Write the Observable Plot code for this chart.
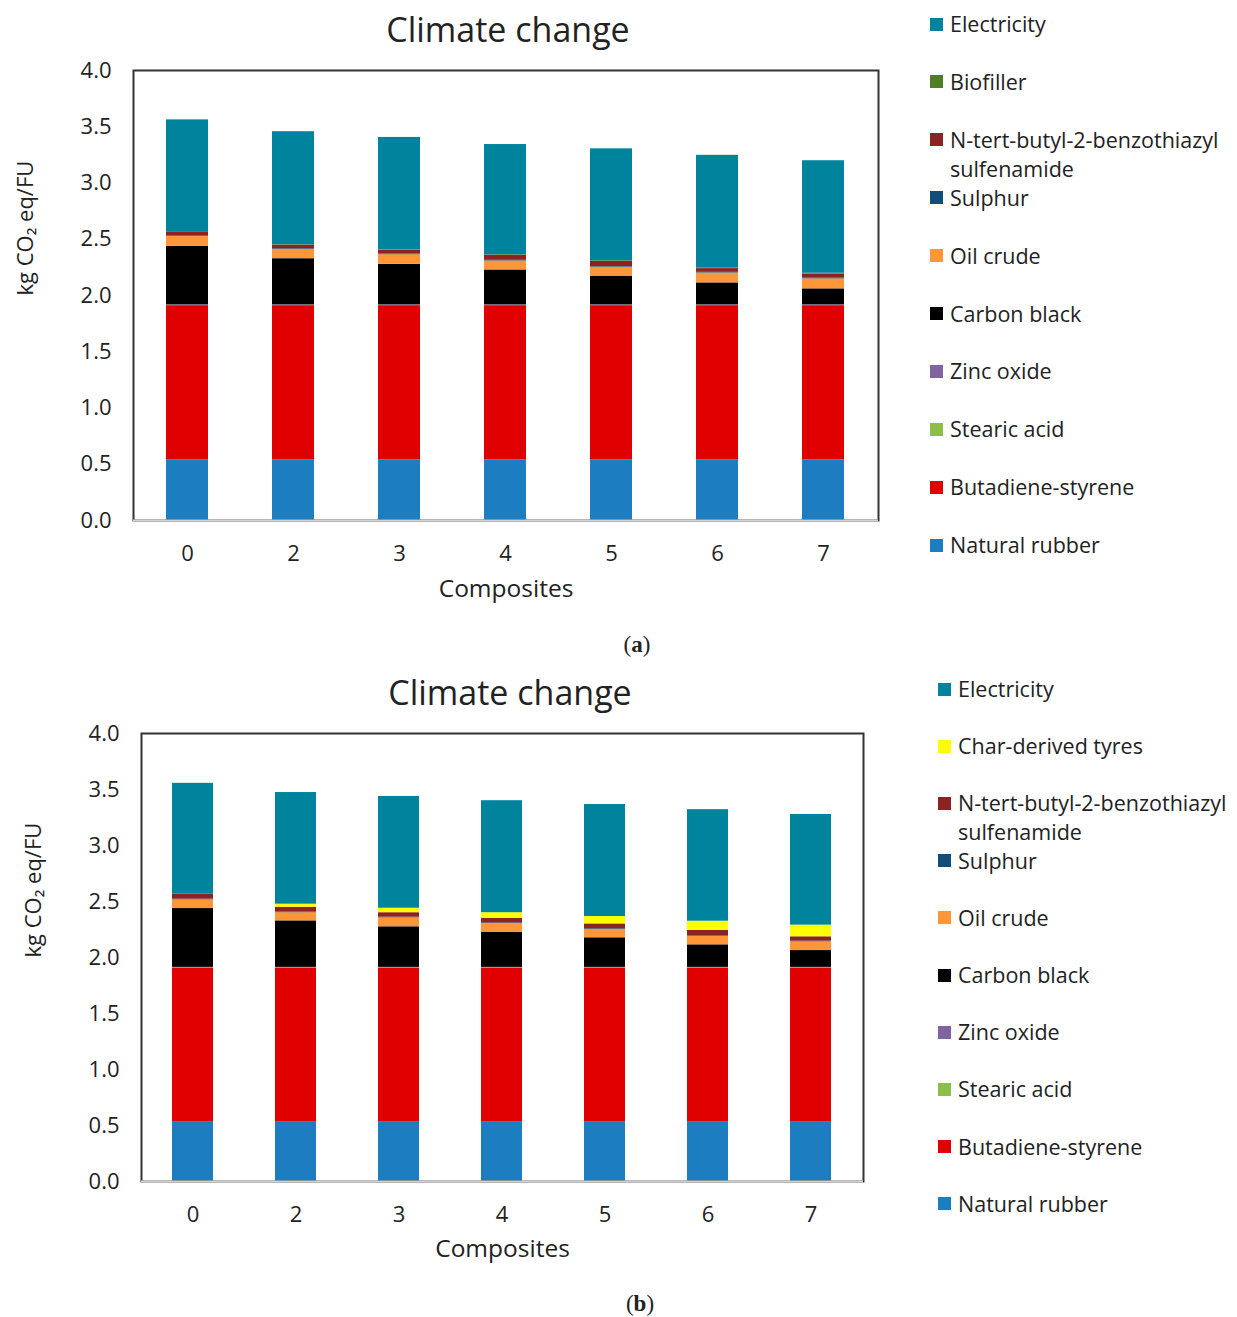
<!DOCTYPE html>
<html><head><meta charset="utf-8">
<script src="https://cdn.jsdelivr.net/npm/d3@7"></script>
<script src="https://cdn.jsdelivr.net/npm/@observablehq/plot@0.6"></script>
<style>
body{margin:0;background:#fff;}
#root{position:relative;width:1237px;height:1317px;font-family:"Open Sans",sans-serif;color:#222;overflow:hidden;}
.title{position:absolute;font-size:34px;transform:translate(-50%,-50%);white-space:nowrap;}
.leg{position:absolute;font-size:21.5px;line-height:29px;white-space:nowrap;}
.sw{position:absolute;width:13px;height:13px;}
.cap{position:absolute;font-family:"Liberation Serif",serif;font-size:23px;transform:translate(-50%,-50%);}
.plotbox{position:absolute;}
</style></head><body><div id="root"></div>
<script>
// ---------- data ----------
const composites = ["0", "2", "3", "4", "5", "6", "7"];
const yTicks = [0, 0.5, 1, 1.5, 2, 2.5, 3, 3.5, 4];

// stack order, bottom to top
const materialsA = ["Natural rubber", "Butadiene-styrene", "Stearic acid", "Zinc oxide", "Carbon black", "Oil crude", "Sulphur", "N-tert-butyl-2-benzothiazyl sulfenamide", "Biofiller", "Electricity"];
const materialsB = ["Natural rubber", "Butadiene-styrene", "Stearic acid", "Zinc oxide", "Carbon black", "Oil crude", "Sulphur", "N-tert-butyl-2-benzothiazyl sulfenamide", "Char-derived tyres", "Electricity"];
const colorsA = ["#1c7ec0", "#e00000", "#8bbf46", "#8064a2", "#000000", "#ff9638", "#114d79", "#8b2323", "#4f7e24", "#00849d"];
const colorsB = ["#1c7ec0", "#e00000", "#8bbf46", "#8064a2", "#000000", "#ff9638", "#114d79", "#8b2323", "#ffff00", "#00849d"];

// (a) kg CO2 eq/FU per composite
const naturalRubberA = [0.54, 0.54, 0.54, 0.54, 0.54, 0.54, 0.54];
const butadieneA     = [1.37, 1.37, 1.37, 1.37, 1.37, 1.37, 1.37];
const stearicA       = [0.002, 0.002, 0.002, 0.002, 0.002, 0.002, 0.002];
const zincA          = [0.005, 0.005, 0.005, 0.005, 0.005, 0.005, 0.005];
const carbonBlackA   = [0.52, 0.41, 0.36, 0.31, 0.255, 0.195, 0.142];
const oilA           = [0.088, 0.083, 0.086, 0.08, 0.08, 0.088, 0.089];
const sulphurA       = [0.006, 0.006, 0.006, 0.006, 0.006, 0.006, 0.006];
const ntertA         = [0.03, 0.032, 0.032, 0.044, 0.045, 0.033, 0.036];
const biofillerA     = [0, 0.003, 0.004, 0.005, 0.006, 0.007, 0.008];
const electricityA   = [1.0, 1.005, 1.0, 0.98, 0.995, 1.0, 1.0];

// (b)
const naturalRubberB = [0.535, 0.535, 0.535, 0.535, 0.535, 0.535, 0.535];
const butadieneB     = [1.37, 1.37, 1.37, 1.37, 1.37, 1.37, 1.37];
const stearicB       = [0.002, 0.002, 0.002, 0.002, 0.002, 0.002, 0.002];
const zincB          = [0.005, 0.005, 0.005, 0.005, 0.005, 0.005, 0.005];
const carbonBlackB   = [0.525, 0.415, 0.362, 0.314, 0.264, 0.201, 0.15];
const oilB           = [0.078, 0.073, 0.08, 0.078, 0.074, 0.077, 0.078];
const sulphurB       = [0.006, 0.006, 0.006, 0.006, 0.006, 0.006, 0.006];
const ntertB         = [0.044, 0.043, 0.04, 0.04, 0.044, 0.045, 0.039];
const charB          = [0, 0.027, 0.04, 0.05, 0.066, 0.083, 0.104];
const electricityB   = [0.99, 0.997, 0.998, 1.0, 1.0, 0.996, 0.988];

const seriesA = [naturalRubberA, butadieneA, stearicA, zincA, carbonBlackA, oilA, sulphurA, ntertA, biofillerA, electricityA];
const seriesB = [naturalRubberB, butadieneB, stearicB, zincB, carbonBlackB, oilB, sulphurB, ntertB, charB, electricityB];

// ---------- drawing ----------
const root = document.getElementById("root");
const FONT = "'Open Sans', sans-serif";

function table(materials, series) {
  const rows = [];
  materials.forEach((m, i) => composites.forEach((c, j) => rows.push({composite: c, material: m, value: series[i][j]})));
  return rows;
}

function drawPanel(cfg) {
  const rows = table(cfg.materials, cfg.series);
  const plot = Plot.plot({
    width: cfg.width, height: cfg.height,
    marginLeft: cfg.ml, marginRight: cfg.mr, marginTop: cfg.mt, marginBottom: cfg.mb,
    style: {fontFamily: FONT, fontSize: "21px", color: "#222", background: "transparent", overflow: "visible"},
    x: {domain: composites, paddingInner: 0.6, paddingOuter: 0.3, label: null},
    y: {domain: [0, 4], label: null},
    color: {domain: cfg.materials, range: cfg.colors},
    marks: [
      Plot.barY(rows, Plot.stackY({x: "composite", y: "value", fill: "material", order: cfg.materials})),
      Plot.frame({stroke: "#333", strokeWidth: 2}),
      Plot.ruleY([0], {stroke: "#d4d4d4", strokeWidth: 2}),
      Plot.axisY({ticks: yTicks, tickFormat: d3.format(".1f"), tickSize: 0, tickPadding: 22, label: null, fontSize: 22}),
      Plot.axisX({tickSize: 0, tickPadding: cfg.xPad, label: null, fontSize: 22}),
      Plot.text(["Composites"], {frameAnchor: "bottom", dy: cfg.xLabelDy, fontSize: 24.5, fill: "#222"}),
      Plot.text(["kg CO₂ eq/FU"], {frameAnchor: "left", dx: -108, rotate: -90, fontSize: 22, fill: "#222"})
    ]
  });
  const box = document.createElement("div");
  box.className = "plotbox";
  box.style.left = cfg.left + "px";
  box.style.top = cfg.top + "px";
  box.appendChild(plot);
  root.appendChild(box);

  const t = document.createElement("div");
  t.className = "title";
  t.textContent = "Climate change";
  t.style.left = cfg.titleX + "px";
  t.style.top = cfg.titleY + "px";
  root.appendChild(t);

  // legend (top to bottom = reverse of stack order)
  const items = cfg.materials.slice().reverse();
  const cols = cfg.colors.slice().reverse();
  items.forEach((m, i) => {
    const cy = cfg.legY0 + i * cfg.legStep;
    const sw = document.createElement("div");
    sw.className = "sw";
    sw.style.background = cols[i];
    sw.style.left = cfg.legX + "px";
    sw.style.top = (cy - 6.5) + "px";
    root.appendChild(sw);
    const lb = document.createElement("div");
    lb.className = "leg";
    lb.style.left = (cfg.legX + 20) + "px";
    lb.style.top = (cy - 15) + "px";
    if (m.length > 28) {
      const k = m.lastIndexOf(" ");
      lb.innerHTML = m.slice(0, k) + "<br>" + m.slice(k + 1);
    } else lb.textContent = m;
    root.appendChild(lb);
  });

  const cap = document.createElement("div");
  cap.className = "cap";
  cap.innerHTML = "(<b>" + cfg.cap + "</b>)";
  cap.style.left = cfg.capX + "px";
  cap.style.top = cfg.capY + "px";
  root.appendChild(cap);
}

drawPanel({
  materials: materialsA, colors: colorsA, series: seriesA,
  left: 0, top: 60, width: 900, height: 580, ml: 133, mr: 22, mt: 10, mb: 120,
  xPad: 25, xLabelDy: 76,
  titleX: 508, titleY: 29,
  legX: 930, legY0: 24, legStep: 57.9,
  cap: "a", capX: 637, capY: 645
});

drawPanel({
  materials: materialsB, colors: colorsB, series: seriesB,
  left: 0, top: 723, width: 900, height: 570, ml: 141, mr: 37, mt: 10, mb: 112,
  xPad: 25, xLabelDy: 75,
  titleX: 510, titleY: 692,
  legX: 938, legY0: 689, legStep: 57.2,
  cap: "b", capX: 640, capY: 1304
});
</script></body></html>
